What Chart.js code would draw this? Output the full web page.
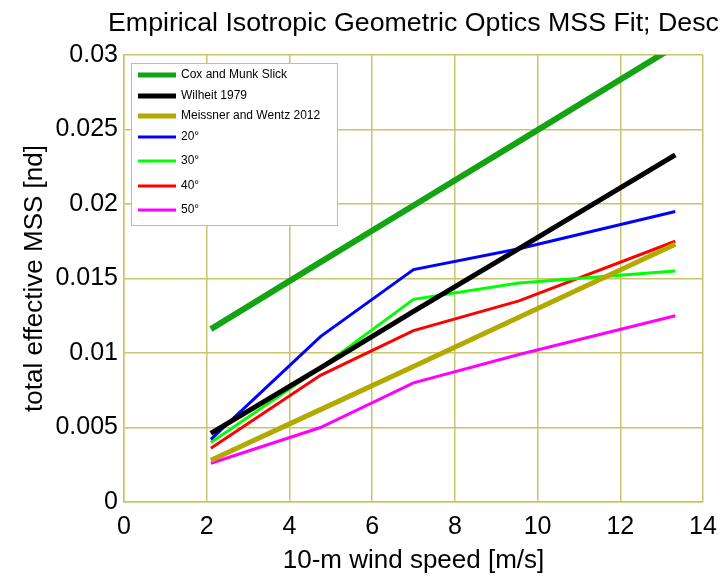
<!DOCTYPE html>
<html>
<head>
<meta charset="utf-8">
<script src="https://cdn.jsdelivr.net/npm/chart.js@4.4.0/dist/chart.umd.min.js"></script>
<style>
  html, body { margin: 0; padding: 0; background: #ffffff; }
  #wrap { width: 727px; height: 576px; }
</style>
</head>
<body>
<div id="wrap"><canvas id="graficoMss" width="727" height="576"></canvas></div>
<script>
// wind speed bins (m/s)
const windSpeed = [2.1, 4.75, 7.0, 9.55, 13.33];

// model curves
const coxMunkSlick = [0.0116, 0.0161, 0.0199, 0.0242, 0.0306];
const wilheit1979 = [0.0046, 0.0090, 0.0128, 0.0170, 0.0233];
const meissnerWentz = [0.0028, 0.0062, 0.0091, 0.0124, 0.0173];

// fitted MSS by incidence angle
const inc20 = [0.0042, 0.0111, 0.0156, 0.0170, 0.0195];
const inc30 = [0.0040, 0.0090, 0.0136, 0.0147, 0.0155];
const inc40 = [0.0036, 0.0085, 0.0115, 0.0135, 0.0175];
const inc50 = [0.0026, 0.0050, 0.0080, 0.0099, 0.0125];

const xTicks = [0, 2, 4, 6, 8, 10, 12, 14];
const yTicks = [0, 0.005, 0.01, 0.015, 0.02, 0.025, 0.03];

const corGrade = "#c9c46c";
const fonte = "'Liberation Sans', Arial, sans-serif";

function serie(label, valores, cor, largura) {
  return {
    label: label,
    data: windSpeed.map((x, i) => ({ x: x, y: valores[i] })),
    borderColor: cor,
    backgroundColor: cor,
    borderWidth: largura,
    pointRadius: 0,
    tension: 0,
    fill: false,
  };
}

const datasets = [
  serie("Cox and Munk Slick", coxMunkSlick, "#13a313", 6),
  serie("Wilheit 1979", wilheit1979, "#000000", 5),
  serie("Meissner and Wentz 2012", meissnerWentz, "#b2aa00", 5),
  serie("20°", inc20, "#0000ff", 3),
  serie("30°", inc30, "#00ff00", 3),
  serie("40°", inc40, "#ff0000", 3),
  serie("50°", inc50, "#ff00ff", 3),
];

// title drawn like a matlab axes title (slightly wide glyphs)
const tituloPlugin = {
  id: "tituloMss",
  afterDraw(chart) {
    const ctx = chart.ctx;
    ctx.save();
    ctx.fillStyle = "#000";
    ctx.font = "25px " + fonte;
    ctx.textAlign = "left";
    ctx.textBaseline = "middle";
    ctx.translate(108, 24);
    ctx.scale(1.07, 1);
    ctx.fillText("Empirical Isotropic Geometric Optics MSS Fit; Desc", 0, 0);
    ctx.restore();
  },
};

// legend box inside the axes, top left
const legendaPlugin = {
  id: "legendaMss",
  afterDatasetsDraw(chart) {
    const ctx = chart.ctx;
    const linhasY = [75, 96, 116, 137, 161, 186, 210];
    ctx.save();
    ctx.fillStyle = "#ffffff";
    ctx.fillRect(131, 63, 206, 162);
    ctx.strokeStyle = corGrade;
    ctx.lineWidth = 1;
    ctx.strokeRect(131.5, 63.5, 206, 162);
    ctx.font = "12px " + fonte;
    ctx.textBaseline = "middle";
    chart.data.datasets.forEach((ds, i) => {
      const y = linhasY[i];
      ctx.strokeStyle = ds.borderColor;
      ctx.lineWidth = i < 3 ? 5 : 3;
      ctx.beginPath();
      ctx.moveTo(138, y);
      ctx.lineTo(176, y);
      ctx.stroke();
      ctx.fillStyle = "#000";
      ctx.fillText(ds.label, 181, y);
    });
    ctx.restore();
  },
};

new Chart(document.getElementById("graficoMss"), {
  type: "line",
  data: { datasets: datasets },
  options: {
    responsive: false,
    animation: false,
    layout: { padding: { top: 55, right: 24, left: 0, bottom: 0 } },
    plugins: {
      legend: { display: false },
      title: { display: false },
      tooltip: { enabled: false },
    },
    scales: {
      x: {
        type: "linear",
        min: 0,
        max: 14,
        afterBuildTicks: (scale) => {
          scale.ticks = xTicks.map((v) => ({ value: v }));
        },
        afterFit: (scale) => {
          scale.height = 74;
        },
        grid: { color: corGrade, lineWidth: 1.5, drawTicks: false },
        border: { color: corGrade, width: 1.5 },
        ticks: {
          color: "#000",
          padding: 10,
          font: { family: fonte, size: 25 },
          maxRotation: 0,
        },
        title: {
          display: true,
          text: "10-m wind speed [m/s]",
          color: "#000",
          font: { family: fonte, size: 26 },
          padding: { top: 0, bottom: 0 },
        },
      },
      y: {
        type: "linear",
        min: 0,
        max: 0.03,
        afterBuildTicks: (scale) => {
          scale.ticks = yTicks.map((v) => ({ value: v }));
        },
        afterFit: (scale) => {
          scale.width = 124;
        },
        grid: { color: corGrade, lineWidth: 1.5, drawTicks: false },
        border: { color: corGrade, width: 1.5 },
        ticks: {
          color: "#000",
          padding: 6,
          font: { family: fonte, size: 25 },
          callback: (value) => String(+value.toFixed(3)),
        },
        title: {
          display: true,
          text: "total effective MSS [nd]",
          color: "#000",
          font: { family: fonte, size: 26 },
          padding: { top: 19, bottom: 0 },
        },
      },
    },
  },
  plugins: [tituloPlugin, legendaPlugin],
});
</script>
</body>
</html>
